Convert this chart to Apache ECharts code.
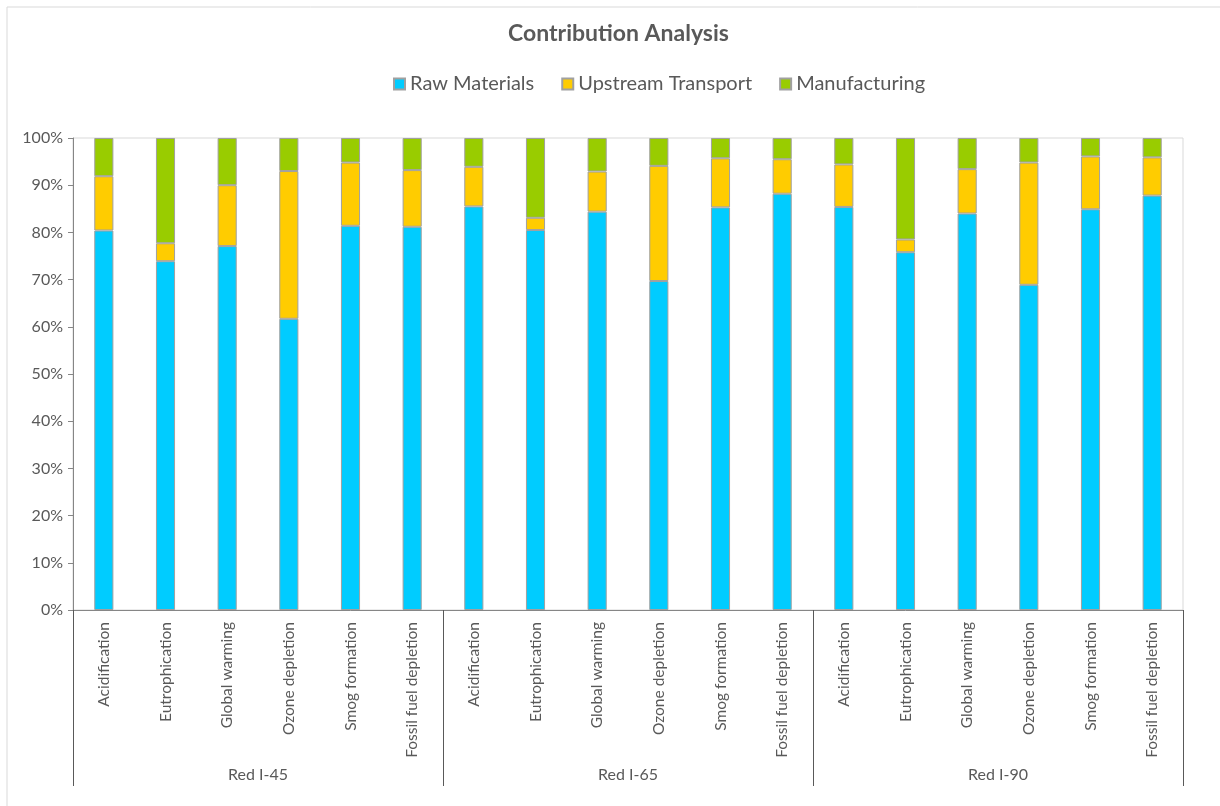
<!DOCTYPE html>
<html>
<head>
<meta charset="utf-8">
<script src="https://cdn.jsdelivr.net/npm/echarts@6/dist/echarts.min.js"></script>
<style>
html,body{margin:0;padding:0;background:#fff;}
#chart{width:1220px;height:806px;}
</style>
</head>
<body>
<div id="chart"></div>
<script>
const groups = ['Red I-45', 'Red I-65', 'Red I-90'];
const impacts = ['Acidification', 'Eutrophication', 'Global warming', 'Ozone depletion', 'Smog formation', 'Fossil fuel depletion'];
const seriesNames = ['Raw Materials', 'Upstream Transport', 'Manufacturing'];
const yTicks = [0, 10, 20, 30, 40, 50, 60, 70, 80, 90, 100];

const rawMaterials = [80.4, 73.9, 77.1, 61.7, 81.4, 81.2,
                      85.5, 80.5, 84.4, 69.7, 85.3, 88.2,
                      85.4, 75.8, 84.0, 68.9, 84.9, 87.8];
const upstreamTransport = [11.5, 3.8, 12.9, 31.3, 13.4, 12.0,
                           8.4, 2.6, 8.5, 24.4, 10.4, 7.3,
                           9.0, 2.7, 9.4, 25.9, 11.2, 8.1];
const manufacturing = [8.1, 22.3, 10.0, 7.0, 5.2, 6.8,
                       6.1, 16.9, 7.1, 5.9, 4.3, 4.5,
                       5.6, 21.5, 6.6, 5.2, 3.9, 4.1];

const colors = ['#00CCFF', '#FFCC00', '#99CC00'];
const categories = [];
groups.forEach(() => impacts.forEach(i => categories.push(i)));

const FONT = 'Lato, "Open Sans", sans-serif';
const chart = echarts.init(document.getElementById('chart'), null, {renderer: 'canvas'});
const dataSets = [rawMaterials, upstreamTransport, manufacturing];

chart.setOption({
  animation: false,
  backgroundColor: '#fff',
  color: colors,
  title: {
    text: 'Contribution Analysis',
    left: 503,
    top: 17,
    textStyle: {fontFamily: FONT, fontSize: 23, fontWeight: 'bold', color: '#595959'}
  },
  legend: {
    data: seriesNames,
    top: 69,
    left: 388,
    itemWidth: 11,
    itemHeight: 11,
    itemGap: 27,
    icon: 'rect',
    textStyle: {fontFamily: FONT, fontSize: 20, color: '#595959'}
  },
  graphic: [{
    type: 'rect',
    shape: {x: 7, y: 7, width: 1300, height: 900},
    style: {fill: 'none', stroke: '#d9d9d9', lineWidth: 1},
    silent: true,
    z: -10
  }],
  grid: {
    left: 73, right: 37, top: 138, bottom: 196,
    show: true, borderColor: '#d9d9d9', borderWidth: 1
  },
  xAxis: [{
    type: 'category',
    data: categories,
    gridIndex: 0,
    position: 'bottom',
    axisLine: {show: true, lineStyle: {color: '#868686', width: 1}},
    axisTick: {show: false},
    axisLabel: {interval: 0, rotate: 90, margin: 12, fontFamily: FONT, fontSize: 15.5, color: '#595959'}
  }, {
    type: 'category',
    data: groups,
    gridIndex: 0,
    position: 'bottom',
    axisLine: {show: false},
    axisTick: {show: true, interval: 0, length: 176, lineStyle: {color: '#595959', width: 1}},
    axisLabel: {interval: 0, margin: 157, fontFamily: FONT, fontSize: 16, color: '#595959'}
  }],
  yAxis: {
    type: 'value',
    min: 0, max: 100, interval: 10,
    axisLine: {show: true, lineStyle: {color: '#868686', width: 1}},
    axisTick: {show: true, length: 5, lineStyle: {color: '#868686'}},
    splitLine: {show: false},
    axisLabel: {margin: 10, fontFamily: FONT, fontSize: 16, color: '#595959', formatter: v => yTicks.includes(v) ? v + '%' : ''}
  },
  series: seriesNames.map((name, i) => ({
    name: name,
    type: 'bar',
    stack: 'total',
    xAxisIndex: 0,
    barWidth: '31%',
    data: dataSets[i],
    itemStyle: {color: colors[i], borderColor: '#a0a0a0', borderWidth: 1}
  }))
});
</script>
</body>
</html>
